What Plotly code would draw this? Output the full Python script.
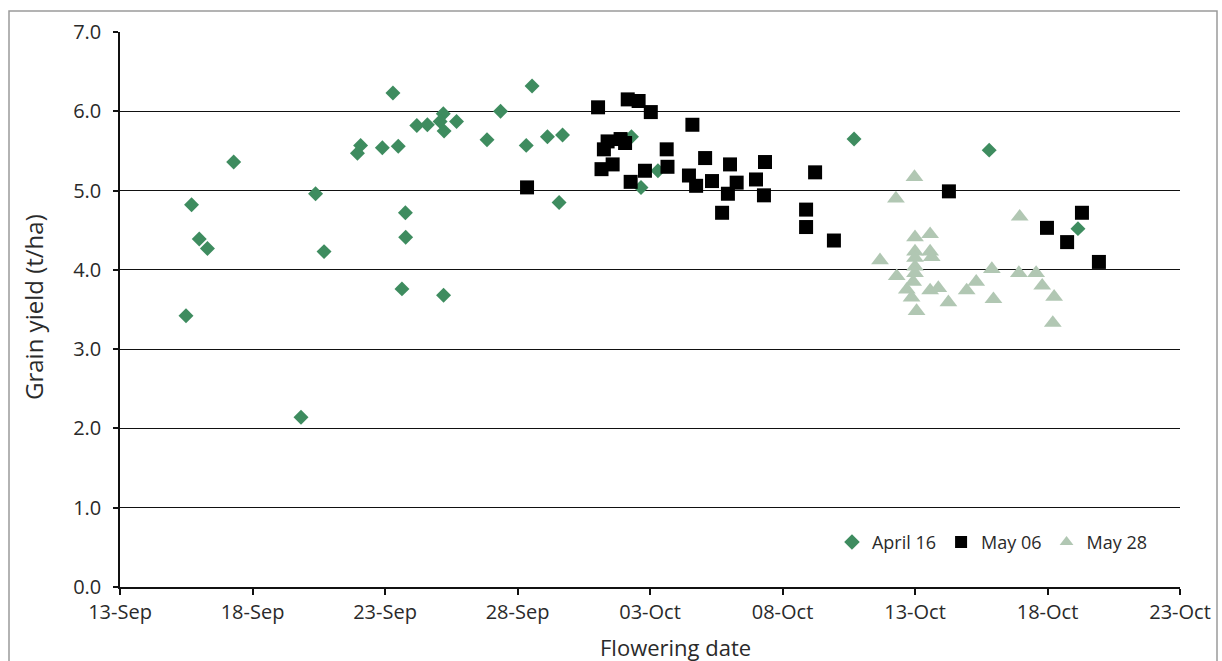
import plotly.graph_objects as go

# Flowering date is stored as days after 13 September; yield in t/ha.
april16_day = [10.30, 15.55, 14.36, 12.20, 12.08, 12.70, 11.20, 11.60, 12.23, 13.85,
               15.33, 9.08, 8.96, 9.90, 10.50, 4.29, 7.38, 2.70, 10.77, 2.99,
               10.78, 3.30, 7.70, 10.64, 12.21, 2.49, 6.83, 16.13, 16.70, 16.57,
               19.30, 20.30, 19.66, 27.70, 32.80, 36.15]
april16_yield = [6.23, 6.32, 6.00, 5.97, 5.87, 5.87, 5.82, 5.83, 5.75, 5.64,
                 5.57, 5.57, 5.47, 5.54, 5.56, 5.36, 4.96, 4.82, 4.72, 4.39,
                 4.41, 4.27, 4.23, 3.76, 3.68, 3.42, 2.14, 5.68, 5.70, 4.85,
                 5.68, 5.25, 5.04, 5.65, 5.51, 4.52]

may06_day = [15.36, 18.04, 19.16, 19.57, 20.03, 18.40, 18.26, 18.89, 19.06, 18.59,
             18.17, 19.81, 19.27, 20.63, 20.66, 21.60, 21.47, 21.74, 22.08, 22.34,
             23.02, 23.27, 22.94, 22.72, 24.00, 24.34, 24.30, 26.23, 25.89, 25.89,
             26.94, 31.28, 36.30, 34.98, 35.74, 36.94]
may06_yield = [5.04, 6.05, 6.15, 6.13, 5.99, 5.62, 5.52, 5.65, 5.60, 5.33,
               5.27, 5.25, 5.11, 5.52, 5.30, 5.83, 5.19, 5.06, 5.41, 5.12,
               5.33, 5.10, 4.96, 4.72, 5.14, 5.36, 4.94, 5.23, 4.76, 4.54,
               4.37, 4.99, 4.72, 4.53, 4.35, 4.10]

may28_day = [29.28, 29.98, 33.95, 30.00, 30.57, 30.00, 30.57, 30.63, 30.00, 30.00,
             28.68, 29.31, 30.00, 29.93, 29.69, 29.87, 30.06, 30.57, 30.88, 31.26,
             31.95, 32.31, 32.90, 32.96, 33.92, 34.57, 34.80, 35.25, 35.20]
may28_yield = [4.90, 5.17, 4.67, 4.41, 4.45, 4.23, 4.23, 4.16, 4.15, 4.04,
               4.12, 3.92, 3.96, 3.85, 3.75, 3.65, 3.48, 3.74, 3.77, 3.59,
               3.74, 3.85, 4.01, 3.63, 3.96, 3.96, 3.80, 3.66, 3.33]

x_tick_days = [0, 5, 10, 15, 20, 25, 30, 35, 40]
x_tick_labels = ["13-Sep", "18-Sep", "23-Sep", "28-Sep", "03-Oct",
                 "08-Oct", "13-Oct", "18-Oct", "23-Oct"]
y_tick_values = [0, 1, 2, 3, 4, 5, 6, 7]
y_tick_labels = ["0.0", "1.0", "2.0", "3.0", "4.0", "5.0", "6.0", "7.0"]

FONT = "Open Sans"
TEXT = "#2a2a2a"
GREEN = "#3e8c5f"
SAGE = "#b1c7b3"

fig = go.Figure()
fig.add_trace(go.Scatter(
    x=april16_day, y=april16_yield, mode="markers", name="April 16",
    marker=dict(symbol="diamond", size=11.5, color=GREEN, line=dict(width=0)),
))
fig.add_trace(go.Scatter(
    x=may06_day, y=may06_yield, mode="markers", name="May 06",
    marker=dict(symbol="square", size=14, color="#000000", line=dict(width=0)),
))
fig.add_trace(go.Scatter(
    x=may28_day, y=may28_yield, mode="markers", name="May 28",
    marker=dict(symbol="triangle-up", size=15.5, color=SAGE, line=dict(width=0)),
))

fig.update_layout(
    width=1222, height=661,
    margin=dict(l=120, r=42, t=32, b=74),
    paper_bgcolor="white", plot_bgcolor="white",
    font=dict(family=FONT, color=TEXT, size=17),
    showlegend=True,
    legend=dict(
        orientation="h", x=0.9745, y=0.0805, xanchor="right", yanchor="middle",
        font=dict(family=FONT, size=18, color=TEXT),
        bgcolor="rgba(0,0,0,0)", itemsizing="constant",
    ),
    xaxis=dict(
        range=[0, 40], tickmode="array", tickvals=x_tick_days, ticktext=x_tick_labels,
        showgrid=False, zeroline=False, showline=True, linecolor="#111111", linewidth=1.5,
        ticks="outside", ticklen=6, tickwidth=1.5, tickcolor="#111111",
        tickfont=dict(family=FONT, size=20, color=TEXT),
    ),
    yaxis=dict(
        range=[0, 7], tickmode="array", tickvals=y_tick_values, ticktext=y_tick_labels,
        showgrid=True, gridcolor="#111111", gridwidth=1.3, zeroline=False,
        showline=True, linecolor="#111111", linewidth=1.5,
        ticks="outside", ticklen=5, tickwidth=1.5, tickcolor="#111111",
        tickfont=dict(family=FONT, size=20, color=TEXT),
        ticklabelstandoff=8,
    ),
    annotations=[
        dict(text="Grain yield (t/ha)", xref="paper", yref="paper",
             x=(33 - 120) / 1060, y=(587 - 307) / 555, textangle=-90,
             showarrow=False, xanchor="center", yanchor="middle",
             font=dict(family=FONT, size=24, color=TEXT)),
        dict(text="Flowering date", xref="paper", yref="paper",
             x=(675 - 120) / 1060, y=(587 - 647) / 555,
             showarrow=False, xanchor="center", yanchor="middle",
             font=dict(family=FONT, size=22, color=TEXT)),
    ],
    shapes=[
        dict(type="rect", xref="paper", yref="paper",
             x0=(9 - 120) / 1060, x1=(1217 - 120) / 1060,
             y0=(587 - 680) / 555, y1=(587 - 11) / 555,
             line=dict(color="#9a9a9a", width=1.5), fillcolor="rgba(0,0,0,0)",
             layer="below"),
    ],
)

fig.write_html("out.html")
